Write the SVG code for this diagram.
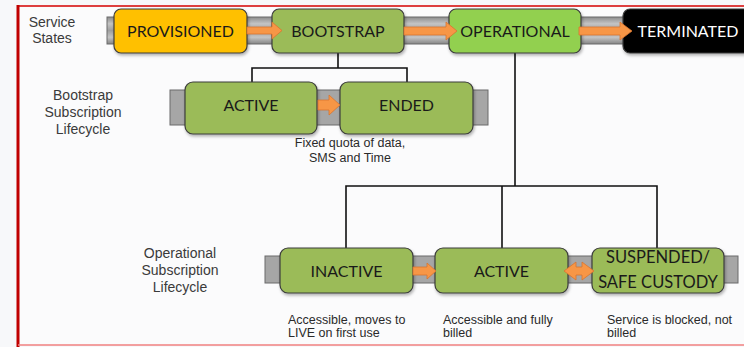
<svg xmlns="http://www.w3.org/2000/svg" width="744" height="347" viewBox="0 0 744 347">
<defs>
<linearGradient id="band" x1="0" y1="0" x2="0" y2="1">
<stop offset="0" stop-color="#8c8c8c"/>
<stop offset="0.25" stop-color="#c4c4c4"/>
<stop offset="0.5" stop-color="#9e9e9e"/>
<stop offset="0.75" stop-color="#c4c4c4"/>
<stop offset="1" stop-color="#858585"/>
</linearGradient>
<filter id="sh" x="-10%" y="-20%" width="130%" height="150%">
<feDropShadow dx="1" dy="2" stdDeviation="1.5" flood-color="#000" flood-opacity="0.3"/>
</filter>
</defs>
<style>
.box{stroke:#3c3c3c;stroke-width:1.2;filter:url(#sh)}
.g1{fill:#9bbb59}
.g2{fill:#92d050}
.lbl{font-family:Lato,"Liberation Sans",sans-serif;font-size:16px;fill:#1a1a1a;text-anchor:middle}
.side{font-family:"Liberation Sans",Arial,sans-serif;font-size:14px;fill:#3a3a3a;text-anchor:middle}
.note{font-family:"Liberation Sans",Arial,sans-serif;font-size:12.5px;fill:#2a2a2a}
.bar{fill:#a6a6a6;stroke:#6a6a6a;stroke-width:1}
.arr{fill:#f79646;stroke:#d9752f;stroke-width:0.8}
.con{stroke:#111;stroke-width:1.6;fill:none}
</style>
<rect width="744" height="347" fill="#f7f8fa"/>
<rect x="19" y="6" width="725" height="339" fill="#fbfbfc"/>
<line x1="17" y1="6" x2="744" y2="6" stroke="#d40000" stroke-width="1.5"/>
<line x1="18" y1="5" x2="18" y2="347" stroke="#c00000" stroke-width="3"/>
<line x1="18" y1="345" x2="744" y2="345" stroke="#f08080" stroke-width="1.5"/>

<g id="labels">
<text class="side" x="52" y="27">Service</text>
<text class="side" x="52" y="43">States</text>
<text class="side" x="83" y="100">Bootstrap</text>
<text class="side" x="83" y="117">Subscription</text>
<text class="side" x="83" y="134">Lifecycle</text>
<text class="side" x="180" y="258">Operational</text>
<text class="side" x="180" y="275">Subscription</text>
<text class="side" x="180" y="292">Lifecycle</text>
</g>

<g id="bands">
<rect x="107" y="17" width="640" height="27" fill="url(#band)" stroke="#6a6a6a" stroke-width="1"/>
<rect class="bar" x="170" y="90" width="318" height="35"/>
<rect class="bar" x="265" y="256" width="473" height="27"/>
</g>

<g id="connectors">
<path class="con" d="M338 53V68M252 82V68H407V82"/>
<path class="con" d="M515 53V186M346 248V186H657V248M502 186V248"/>
</g>

<g id="provisioned"><rect class="box" x="114" y="9" width="133" height="44" rx="7" fill="#ffc000"/><text class="lbl" x="180.5" y="37">PROVISIONED</text></g>
<g id="bootstrap"><rect class="box g1" x="272" y="9" width="132" height="44" rx="7"/><text class="lbl" x="338" y="37">BOOTSTRAP</text></g>
<g id="operational"><rect class="box g2" x="449" y="9" width="132" height="44" rx="7"/><text class="lbl" x="515" y="37">OPERATIONAL</text></g>
<g id="terminated"><rect class="box" x="623" y="9" width="135" height="44" rx="7" fill="#000"/><text class="lbl" x="688" y="37" style="fill:#fff">TERMINATED</text></g>

<g id="bs-active"><rect class="box g1" x="185" y="82" width="132" height="52" rx="8"/><text class="lbl" x="251" y="111">ACTIVE</text></g>
<g id="bs-ended"><rect class="box g1" x="340" y="82" width="133" height="52" rx="8"/><text class="lbl" x="406.5" y="111">ENDED</text></g>

<g id="op-inactive"><rect class="box g1" x="280" y="248" width="133" height="45" rx="8"/><text class="lbl" x="346.5" y="277">INACTIVE</text></g>
<g id="op-active"><rect class="box g1" x="435" y="248" width="133" height="45" rx="8"/><text class="lbl" x="501.5" y="277">ACTIVE</text></g>
<g id="op-suspended"><rect class="box g1" x="592" y="248" width="132" height="45" rx="8"/><text class="lbl" x="658" y="263" style="font-size:16.5px">SUSPENDED/</text><text class="lbl" x="658" y="288" style="font-size:16.5px">SAFE CUSTODY</text></g>

<g id="arrows">
<polygon class="arr" points="247,27 272,27 272,22 282,30.5 272,39 272,34 247,34"/>
<polygon class="arr" points="404,27 446,27 446,22 457,31 446,40 446,35 404,35"/>
<polygon class="arr" points="579,27 620,27 620,22 632,31 620,40 620,35 579,35"/>
<polygon class="arr" points="318,100 329,100 329,95 340,105 329,115 329,110 318,110"/>
<polygon class="arr" points="413,267 427,267 427,263 436,271 427,279 427,275 413,275"/>
<polygon class="arr" points="564,271 576,262 576,267 582,267 582,262 594,271 582,280 582,275 576,275 576,280"/>
</g>

<g id="notes">
<text class="note" x="350" y="146.5" text-anchor="middle">Fixed quota of data,</text>
<text class="note" x="350" y="161.5" text-anchor="middle">SMS and Time</text>
<text class="note" x="288" y="324">Accessible, moves to</text>
<text class="note" x="288" y="337">LIVE on first use</text>
<text class="note" x="443" y="324">Accessible and fully</text>
<text class="note" x="443" y="337">billed</text>
<text class="note" x="607" y="324">Service is blocked, not</text>
<text class="note" x="607" y="337">billed</text>
</g>
</svg>
